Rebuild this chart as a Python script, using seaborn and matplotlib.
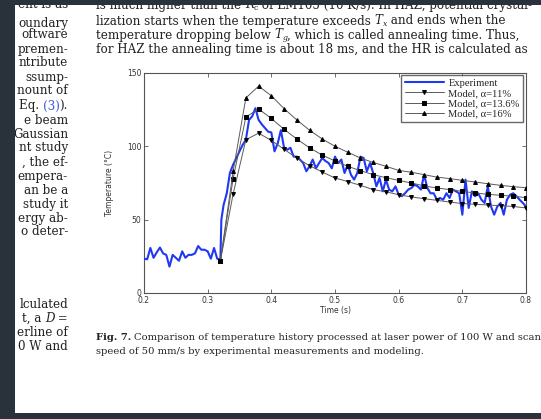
import numpy as np
import pandas as pd
import matplotlib
matplotlib.use("Agg")
import matplotlib.pyplot as plt
from matplotlib.patches import Rectangle
import seaborn as sns

# ---------------- data ----------------
model_time = [0.32, 0.34, 0.36, 0.38, 0.40, 0.42, 0.44, 0.46, 0.48, 0.50, 0.52, 0.54,
              0.56, 0.58, 0.60, 0.62, 0.64, 0.66, 0.68, 0.70, 0.72, 0.74, 0.76, 0.78, 0.80]
model_11 = [22, 67.5, 104.5, 109, 104, 98, 92, 86.8, 82.5, 78.4, 76, 73.4,
            70.5, 69, 67, 65.5, 64.3, 63.2, 62, 61, 60.5, 60, 59.5, 59, 58]
model_136 = [22, 78, 120, 125.5, 119, 111.6, 105, 99, 94, 90, 86.4, 83.4,
             80.7, 78.6, 76.8, 75, 73, 71.6, 70.5, 69.3, 68.2, 67.3, 66.6, 66, 65]
model_16 = [22, 83, 133, 141, 134.5, 125.7, 118, 111, 105, 100, 96, 92,
            89, 86.4, 83.6, 82.3, 80.7, 79, 78, 76.8, 75.7, 74.5, 73.4, 72.5, 71.8]

exp_time = [0.200, 0.205, 0.210, 0.215, 0.220, 0.225, 0.230, 0.235, 0.240, 0.245,
            0.250, 0.255, 0.260, 0.265, 0.270, 0.275, 0.280, 0.285, 0.290, 0.295,
            0.300, 0.305, 0.310, 0.315, 0.320, 0.3215, 0.325, 0.330, 0.335, 0.340,
            0.345, 0.350, 0.355, 0.360, 0.365, 0.370, 0.375, 0.380, 0.385, 0.390,
            0.395, 0.400, 0.405, 0.410, 0.415, 0.420, 0.425, 0.430, 0.435, 0.440,
            0.445, 0.450, 0.455, 0.460, 0.465, 0.470, 0.475, 0.480, 0.485, 0.490,
            0.495, 0.500, 0.505, 0.510, 0.515, 0.520, 0.525, 0.530, 0.535, 0.540,
            0.545, 0.550, 0.555, 0.560, 0.565, 0.570, 0.575, 0.580, 0.585, 0.590,
            0.595, 0.600, 0.605, 0.610, 0.615, 0.620, 0.625, 0.630, 0.635, 0.640,
            0.645, 0.650, 0.655, 0.660, 0.665, 0.670, 0.675, 0.680, 0.685, 0.690,
            0.695, 0.700, 0.705, 0.710, 0.715, 0.720, 0.725, 0.730, 0.735, 0.740,
            0.745, 0.750, 0.755, 0.760, 0.765, 0.770, 0.775, 0.780, 0.785, 0.790,
            0.795, 0.800]
exp_temp = [23.4, 23, 30.7, 24, 27.7, 31, 27, 26, 18, 26,
            24, 22, 28.4, 24, 26, 26, 27, 32, 29.5, 29.5,
            28.4, 23.4, 30.7, 23.4, 23, 50, 60, 68, 82, 87.5,
            92, 96.6, 101, 104.5, 118, 120.5, 126, 118, 115, 112.5,
            110, 109.5, 96.6, 102, 111, 99, 97.7, 99, 93, 93,
            91, 88.6, 83, 86.4, 91, 85, 88.6, 92, 90, 88.6,
            85, 93, 88.6, 91, 81.8, 87.5, 80.7, 77.3, 81.8, 93,
            92, 83, 88.6, 81.8, 72.7, 78.4, 69.3, 77.3, 70.5, 69.3,
            72.7, 67, 66, 68, 70.5, 71.6, 73.8, 72.7, 70.5, 80.7,
            71.6, 68, 68, 63.6, 64.8, 63.6, 68, 64.8, 70.5, 69.3,
            68, 53.4, 77.3, 58, 69.3, 66, 68, 63.6, 61.4, 72.7,
            59, 53.4, 59, 61.4, 53.4, 63.6, 67, 68, 66, 63.6,
            61.4, 59]

x_ticks = [0.2, 0.3, 0.4, 0.5, 0.6, 0.7, 0.8]
y_ticks = [0, 50, 100, 150]

# ---------------- figure ----------------
sns.set_style("white")
plt.rcParams["font.family"] = ["DejaVu Sans"]
W, H = 541, 419
fig = plt.figure(figsize=(W / 100, H / 100), dpi=100)
fig.patch.set_facecolor("white")
renderer = fig.canvas.get_renderer()

def fx(px):
    return px / W

def fy(py):
    return 1 - py / H

ax_l, ax_r, ax_t, ax_b = 144, 526, 73, 293
ax = fig.add_axes([fx(ax_l), fy(ax_b), (ax_r - ax_l) / W, (ax_b - ax_t) / H])

exp_df = pd.DataFrame({"t": exp_time, "T": exp_temp})
sns.lineplot(data=exp_df, x="t", y="T", ax=ax, color="#2038f2", lw=1.5,
             label="Experiment", zorder=3)

mcol = "#5a5a5a"
sns.lineplot(x=model_time, y=model_11, ax=ax, color=mcol, lw=0.7, marker="v",
             markersize=2.8, markerfacecolor="black", markeredgecolor="black",
             label="Model, \u03b1=11%", zorder=4)
sns.lineplot(x=model_time, y=model_136, ax=ax, color=mcol, lw=0.7, marker="s",
             markersize=3.3, markerfacecolor="black", markeredgecolor="black",
             label="Model, \u03b1=13.6%", zorder=4)
sns.lineplot(x=model_time, y=model_16, ax=ax, color=mcol, lw=0.7, marker="^",
             markersize=2.8, markerfacecolor="black", markeredgecolor="black",
             label="Model, \u03b1=16%", zorder=4)

ax.set_xlim(0.2, 0.8)
ax.set_ylim(0, 150)
ax.set_xticks(x_ticks)
ax.set_yticks(y_ticks)
ax.set_xticklabels([f"{v:g}" for v in x_ticks], fontsize=5.5, color="#333333")
ax.set_yticklabels([f"{v:g}" for v in y_ticks], fontsize=5.5, color="#333333")
ax.tick_params(direction="in", length=3, width=0.6, top=True, right=True,
               bottom=True, left=True, pad=2, colors="#555555", labelcolor="#333333")
for s in ax.spines.values():
    s.set_color("#555555")
    s.set_linewidth(0.8)
ax.set_xlabel("Time (s)", fontsize=5.5, labelpad=1, color="#333333")
ax.set_ylabel("Temperature (\u00b0C)", fontsize=5.5, labelpad=9, color="#333333")

leg = ax.legend(loc="upper right", bbox_to_anchor=(0.992, 0.99),
                prop={"family": "Liberation Serif", "size": 7.6},
                frameon=True, fancybox=False, handlelength=3.7,
                borderpad=0.3, labelspacing=0.08, handletextpad=0.45,
                borderaxespad=0)
leg.get_frame().set_edgecolor("#444444")
leg.get_frame().set_linewidth(1.0)

# ---------------- page text ----------------
serif = "DejaVu Serif"
tc = "#222222"
fs_body = 8.6
fs_sub = 5.6
fs_cap = 7.2


def draw_segments(x_px, y_px, segs, align="left"):
    """Draw a line of text made of styled pieces, placed side by side."""
    order = segs if align == "left" else list(reversed(segs))
    x = x_px
    for txt, opts in order:
        o = dict(family=serif, fontsize=fs_body, color=tc)
        opts = dict(opts)
        dy = opts.pop("dy", 0)
        o.update(opts)
        t = fig.text(x / W, fy(y_px + dy), txt, va="baseline",
                     ha="left" if align == "left" else "right", **o)
        ext = t.get_window_extent(renderer)
        x = ext.x1 if align == "left" else ext.x0


base_off = 3.5  # baseline below the visual centre of a line, in pixels

left_lines = [("ent is as", 5), ("oundary", 23), ("oftware", 35), ("premen-", 49),
              ("ntribute", 63), ("ssump-", 77), ("nount of", 91), ("e beam", 120),
              ("Gaussian", 134), ("nt study", 148), (", the ef-", 162),
              ("empera-", 176), ("an be a", 190), ("study it", 204), ("ergy ab-", 218),
              ("o deter-", 231), ("lculated", 304), ("erline of", 332), ("0 W and", 346)]
for txt, yy in left_lines:
    draw_segments(68, yy + base_off, [(txt, {})], align="right")
draw_segments(68, 106 + base_off, [("Eq. ", {}), ("(3)", {"color": "#3b5bdb"}), (").", {})],
              align="right")
draw_segments(68, 318 + base_off, [("t, a ", {}), ("D", {"style": "italic"}), (" =", {})],
              align="right")

sub = {"fontsize": fs_sub, "dy": 1.6}
top_segments = [
    (5, [("is much higher than the ", {}), ("R", {"style": "italic"}), ("c", dict(sub)),
         (" of LM105 (10 K/s). In HAZ, potential crystal-", {})]),
    (21, [("lization starts when the temperature exceeds ", {}), ("T", {"style": "italic"}),
          ("x", dict(sub, style="italic")), (" and ends when the", {})]),
    (35, [("temperature dropping below ", {}), ("T", {"style": "italic"}),
          ("g", dict(sub, style="italic")), (", which is called annealing time. Thus,", {})]),
    (49, [("for HAZ the annealing time is about 18 ms, and the HR is calculated as", {})]),
]
for yy, segs in top_segments:
    draw_segments(96, yy + base_off, segs, align="left")

tb = fig.text(fx(96), fy(337), "Fig. 7.", family=serif, fontsize=fs_cap, color=tc,
              va="center", weight="bold")
xb = tb.get_window_extent(renderer).x1
fig.text((xb + 3) / W, fy(337),
         "Comparison of temperature history processed at laser power of 100 W and scan",
         family=serif, fontsize=fs_cap, color=tc, va="center")
fig.text(fx(96), fy(351), "speed of 50 mm/s by experimental measurements and modeling.",
         family=serif, fontsize=fs_cap, color=tc, va="center")

# dark frame of the screenshot
dark = "#29313a"
fig.patches.append(Rectangle((0, 0), 15 / W, 1, transform=fig.transFigure,
                             facecolor=dark, edgecolor="none", zorder=10))
fig.patches.append(Rectangle((0, 1 - 5 / H), 1, 5 / H, transform=fig.transFigure,
                             facecolor=dark, edgecolor="none", zorder=10))
fig.patches.append(Rectangle((0, 0), 1, (H - 413) / H, transform=fig.transFigure,
                             facecolor=dark, edgecolor="none", zorder=10))

fig.savefig("out.png", dpi=100, facecolor="white")
